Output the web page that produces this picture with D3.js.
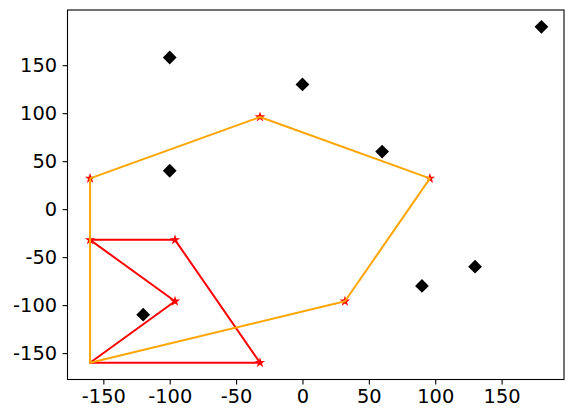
<!DOCTYPE html>
<html><head><meta charset="utf-8">
<script src="https://cdn.jsdelivr.net/npm/d3@7"></script>
<style>body{margin:0;background:#fff}</style>
</head><body>
<svg id="c" width="572" height="419"></svg>
<script>
// Black diamond points
const pointsX = [-100, 0, 180, 60, -100, 130, 90, -120];
const pointsY = [158, 130, 190, 60, 40, -60, -80, -110];
// Orange polygon (closed)
const orangeX = [-160, -32, 96, 32, -160, -160];
const orangeY = [32, 96, 32, -96, -160, 32];
const orangeStarX = [-160, -32, 96, 32];
const orangeStarY = [32, 96, 32, -96];
// Red polygon (closed)
const redX = [-160, -96, -32, -160, -96, -160];
const redY = [-32, -32, -160, -160, -96, -32];
const redStarX = [-160, -96, -32, -96];
const redStarY = [-32, -32, -160, -96];
// Ticks
const xTicks = [-150, -100, -50, 0, 50, 100, 150];
const yTicks = [-150, -100, -50, 0, 50, 100, 150];

const svg = d3.select('#c');
const L = 67.5, R = 564, T = 10, B = 379.5;
const x = d3.scaleLinear().domain([-177, 197]).range([L, R]);
const y = d3.scaleLinear().domain([-177.5, 207.5]).range([B, T]);
const font = 'DejaVu Sans, sans-serif';

const line = d3.line().x(d => x(d[0])).y(d => y(d[1]));
const zip = (a, b) => a.map((v, i) => [v, b[i]]);

svg.append('path').attr('d', line(zip(redX, redY)))
  .attr('fill', 'none').attr('stroke', 'red').attr('stroke-width', 2).attr('stroke-linejoin', 'round');

const star = d3.symbol().type(d3.symbolStar).size(34)();
svg.append('g').selectAll('path').data(zip(redStarX, redStarY).concat(zip(orangeStarX, orangeStarY)))
  .join('path').attr('d', star)
  .attr('transform', d => `translate(${x(d[0])},${y(d[1])})`)
  .attr('fill', 'red');

svg.append('path').attr('d', line(zip(orangeX, orangeY)))
  .attr('fill', 'none').attr('stroke', 'orange').attr('stroke-width', 2).attr('stroke-linejoin', 'round');

const sq = d3.symbol().type(d3.symbolSquare).size(95)();
svg.append('g').selectAll('path').data(zip(pointsX, pointsY))
  .join('path').attr('d', sq)
  .attr('transform', d => `translate(${x(d[0])},${y(d[1])}) rotate(45)`)
  .attr('fill', 'black');

// Frame
svg.append('rect').attr('x', L).attr('y', T).attr('width', R - L).attr('height', B - T)
  .attr('fill', 'none').attr('stroke', 'black').attr('stroke-width', 1.1);

const xa = svg.append('g').attr('transform', `translate(0,${B})`)
  .call(d3.axisBottom(x).tickValues(xTicks).tickSize(4.9).tickSizeOuter(0).tickPadding(4.9)
    .tickFormat(d => d < 0 ? '-' + Math.abs(d) : d));
const ya = svg.append('g').attr('transform', `translate(${L},0)`)
  .call(d3.axisLeft(y).tickValues(yTicks).tickSize(4.9).tickSizeOuter(0).tickPadding(5.5)
    .tickFormat(d => d < 0 ? '-' + Math.abs(d) : d));
[xa, ya].forEach(a => {
  a.select('.domain').remove();
  a.selectAll('line').attr('stroke', 'black').attr('stroke-width', 1.1);
  a.selectAll('text').attr('font-family', font).attr('font-size', 19.4).attr('fill', 'black');
});
</script>
</body></html>
